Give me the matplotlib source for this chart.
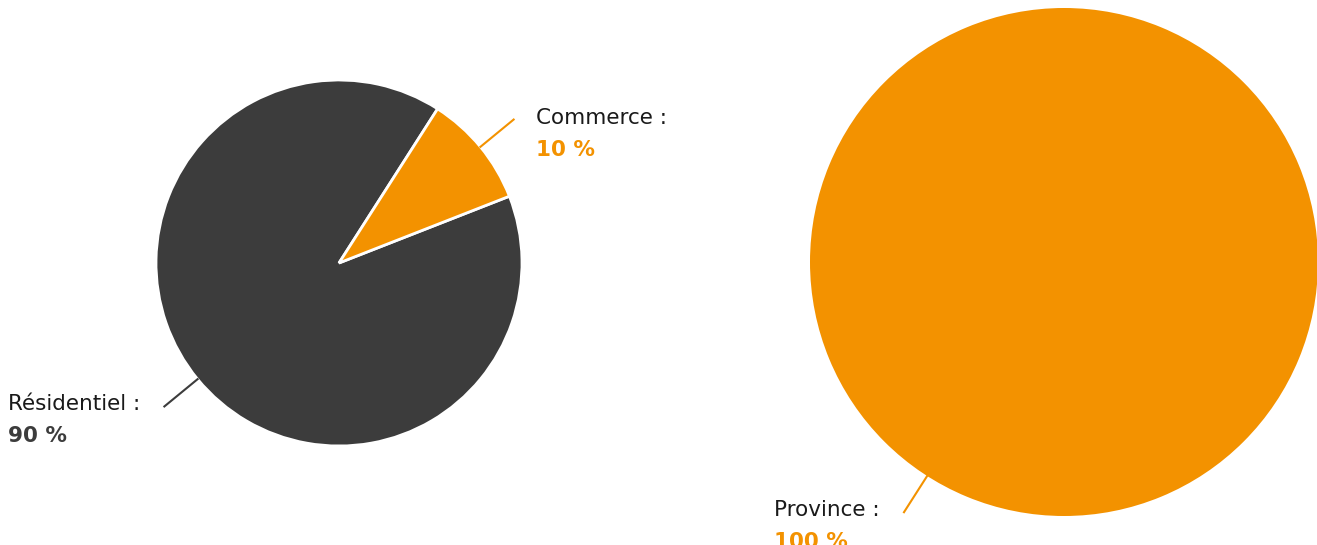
import matplotlib
matplotlib.use('Agg')
import matplotlib.pyplot as plt
from matplotlib.transforms import IdentityTransform
import numpy as np

plt.rcParams['font.family'] = ['DejaVu Sans']

W, H = 1317, 545
ORANGE = '#f39200'
DARK = '#3c3c3c'

# usage split (left pie)
usage_labels = ['Résidentiel', 'Commerce']
usage_values = [90, 10]
usage_colors = [DARK, ORANGE]

# zone split (right pie)
zone_labels = ['Province']
zone_values = [100]
zone_colors = [ORANGE]

fig = plt.figure(figsize=(W / 100, H / 100), dpi=100)


def draw_pie(cx, cy, r, labels, values, colors, start=57.4):
    ax = fig.add_axes([(cx - r) / W, 1 - (cy + r) / H, 2 * r / W, 2 * r / H])
    lw = 2 if len(values) > 1 else 0
    wedges, _ = ax.pie(values, colors=colors, startangle=start, counterclock=True,
                       wedgeprops=dict(edgecolor='white', linewidth=lw))
    ax.set_xlim(-1, 1)
    ax.set_ylim(-1, 1)
    ext = 1 + 43 / r
    total = float(sum(values))
    out = []
    for w, lab, val, col in zip(wedges, labels, values, colors):
        mid = np.deg2rad((w.theta1 + w.theta2) / 2)
        x0, y0 = np.cos(mid), np.sin(mid)
        ax.plot([x0, x0 * ext], [y0, y0 * ext], color=col, lw=1.5, clip_on=False)
        side = 1 if x0 >= 0 else -1
        dx = 22 if side > 0 else -24
        t1 = ax.annotate(lab + ' :', xy=(x0 * ext, y0 * ext), xytext=(dx, 2),
                         textcoords='offset pixels', ha='left' if side > 0 else 'right',
                         va='center', fontsize=15.5, color='#1a1a1a', annotation_clip=False)
        pct = '%d %%' % round(100 * val / total)
        out.append((t1, pct, col))
    return out


labels_out = draw_pie(339, 263, 183, usage_labels, usage_values, usage_colors)
labels_out += draw_pie(1064, 262, 254, zone_labels, zone_values, zone_colors)

fig.canvas.draw()
for t1, pct, col in labels_out:
    bb = t1.get_window_extent()
    fig.text(bb.x0, (bb.y0 + bb.y1) / 2 - 32, pct, transform=IdentityTransform(),
             ha='left', va='center', fontsize=15.5, fontweight='bold', color=col)

fig.savefig('out.png', dpi=100)
